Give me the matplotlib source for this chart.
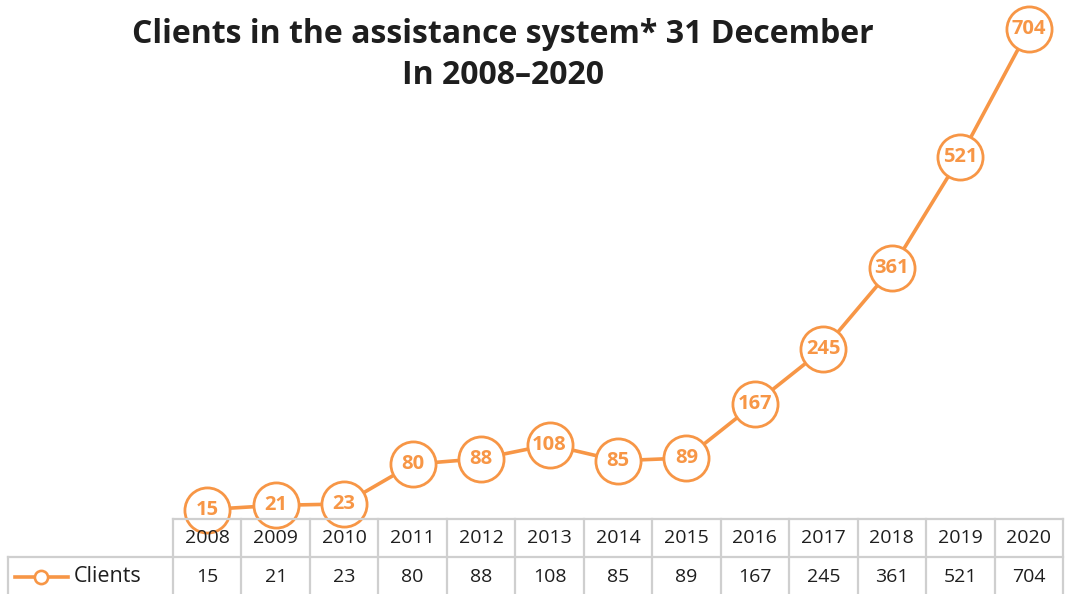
import matplotlib
matplotlib.use("Agg")
import matplotlib.pyplot as plt
from matplotlib.transforms import blended_transform_factory
from matplotlib.lines import Line2D

years = ["2008", "2009", "2010", "2011", "2012", "2013", "2014",
         "2015", "2016", "2017", "2018", "2019", "2020"]
clients = [15, 21, 23, 80, 88, 108, 85, 89, 167, 245, 361, 521, 704]
series_name = "Clients"
title = "Clients in the assistance system* 31 December\nIn 2008–2020"

ORANGE = "#F79646"
GRID = "#cfcfcf"
TEXT = "#1e1e1e"
W, H = 1065, 594

fig = plt.figure(figsize=(W / 100, H / 100), dpi=100)

# plot area: columns from x=173px to x=1063px, baseline at y=520px
left, right, base = 173, 1063, 520
ax = fig.add_axes([left / W, 1 - base / H, (right - left) / W, base / H])
ax.set_xlim(-0.5, len(years) - 0.5)
ax.set_ylim(0, 746)
ax.axis("off")

x = list(range(len(years)))
ax.plot(x, clients, color=ORANGE, lw=2.6, zorder=2, clip_on=False,
        solid_capstyle="round")
ax.plot(x, clients, ls="none", marker="o", ms=32.5, mfc="white",
        mec=ORANGE, mew=2.0, zorder=3, clip_on=False)
for xi, v in zip(x, clients):
    ax.text(xi, v, str(v), ha="center", va="center", color=ORANGE,
            fontsize=14.5, fontweight="bold", family="Open Sans", zorder=4,
            clip_on=False)

fig.text(503 / W, 1 - 55 / H, title, ha="center", va="center",
         fontsize=23, fontweight="bold", family="Open Sans",
         color=TEXT, linespacing=1.3)

# data table under the plot
tr = blended_transform_factory(ax.transData, fig.transFigure)
def fy(py):
    return 1 - py / H

row_top, row_mid, row_bot = 519, 557, 596
lab_left = 8
lw_grid = 1.6
n = len(years)
grid = [Line2D([-0.5, n - 0.5], [fy(row_top)] * 2, transform=tr)]
for i in range(n + 1):
    grid.append(Line2D([i - 0.5, i - 0.5], [fy(row_top), fy(row_bot)],
                       transform=tr))
grid.append(Line2D([lab_left / W, right / W], [fy(row_mid)] * 2,
                   transform=fig.transFigure))
grid.append(Line2D([lab_left / W] * 2, [fy(row_mid), fy(row_bot)],
                   transform=fig.transFigure))
for ln in grid:
    ln.set_color(GRID)
    ln.set_linewidth(lw_grid)
    fig.add_artist(ln)

for i, (yr, v) in enumerate(zip(years, clients)):
    t1 = fig.text(0, 0, yr, transform=tr, fontsize=14, color=TEXT,
                  family="Open Sans", ha="center", va="center")
    t1.set_position((i, fy(538)))
    t2 = fig.text(0, 0, str(v), transform=tr, fontsize=14, color=TEXT,
                  family="Open Sans", ha="center", va="center")
    t2.set_position((i, fy(577)))

# legend key in the label cell
fig.add_artist(Line2D([15 / W, 68 / W], [fy(577)] * 2,
                      transform=fig.transFigure, color=ORANGE, lw=2.6))
fig.add_artist(Line2D([41 / W], [fy(577)], transform=fig.transFigure,
                      ls="none", marker="o", ms=9.5, mfc="white",
                      mec=ORANGE, mew=1.9))
fig.text(74 / W, fy(577), series_name, fontsize=15.5, color=TEXT,
         family="Open Sans", ha="left", va="center")

fig.savefig("out.png", dpi=100, facecolor="white")
